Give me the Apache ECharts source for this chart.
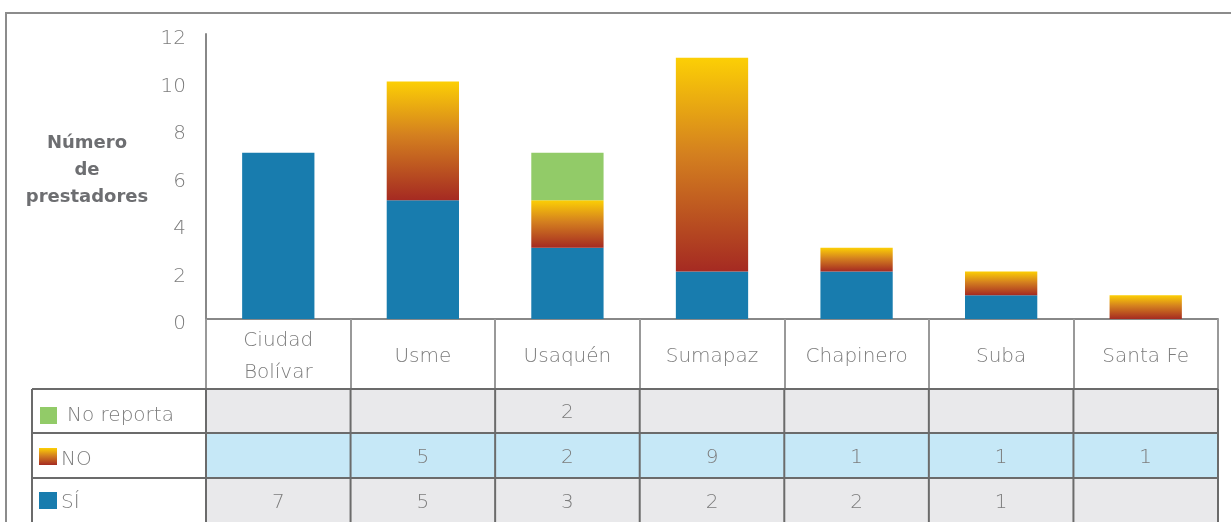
<!DOCTYPE html>
<html>
<head>
<meta charset="utf-8">
<script src="https://cdn.jsdelivr.net/npm/echarts@6/dist/echarts.min.js"></script>
<style>
  html, body { margin: 0; padding: 0; background: #fff; }
  #main { width: 1231px; height: 522px; }
</style>
</head>
<body>
<div id="main"></div>
<script>
// datos
var categories = ["Ciudad\nBolívar", "Usme", "Usaquén", "Sumapaz", "Chapinero", "Suba", "Santa Fe"];
var si = [7, 5, 3, 2, 2, 1, null];
var no = [null, 5, 2, 9, 1, 1, 1];
var noReporta = [null, null, 2, null, null, null, null];
var yTicks = [0, 2, 4, 6, 8, 10, 12];

var FONT = "DejaVu Sans";
var TXT = "#7c7c7c";
var BLUE = "#187cae";
var GREEN = "#92cb68";
function noGrad() {
  return new echarts.graphic.LinearGradient(0, 0, 0, 1, [
    { offset: 0, color: "#fccf05" },
    { offset: 0.45, color: "#d4801f" },
    { offset: 1, color: "#a52a22" }
  ]);
}

var myChart = echarts.init(document.getElementById("main"));

var option = {
  animation: false,
  backgroundColor: "#fff",
  grid: { left: 206, right: 13, top: 34, bottom: 203 },
  xAxis: {
    type: "category",
    data: categories,
    axisLine: { lineStyle: { color: "#888", width: 2 } },
    axisTick: { show: true, interval: 0, length: 70, lineStyle: { color: "#999", width: 2 } },
    axisLabel: {
      interval: 0,
      margin: 38,
      verticalAlign: "middle",
      lineHeight: 32,
      color: TXT,
      fontFamily: FONT,
      fontWeight: 200,
      fontSize: 20
    }
  },
  yAxis: {
    type: "value",
    min: 0,
    max: 12,
    interval: 2,
    axisLine: { show: true, lineStyle: { color: "#888", width: 2 } },
    axisTick: { show: false },
    splitLine: { show: false },
    axisLabel: {
      margin: 20,
      verticalAlign: "top",
      lineHeight: 10,
      color: TXT,
      fontFamily: FONT,
      fontWeight: 200,
      fontSize: 20,
      formatter: function (v) { return yTicks.indexOf(v) >= 0 ? String(v) : ""; }
    }
  },
  series: [
    { name: "SÍ", type: "bar", stack: "t", barWidth: "50%", data: si, itemStyle: { color: BLUE } },
    { name: "NO", type: "bar", stack: "t", data: no, itemStyle: { color: noGrad() } },
    { name: "No reporta", type: "bar", stack: "t", data: noReporta, itemStyle: { color: GREEN } }
  ]
};
myChart.setOption(option);

// tabla de datos debajo del eje
var x0 = myChart.convertToPixel({ xAxisIndex: 0 }, 0);
var x1 = myChart.convertToPixel({ xAxisIndex: 0 }, 1);
var band = x1 - x0;
var leftEdge = x0 - band / 2;
var rightEdge = leftEdge + band * categories.length;
var rows = [
  { name: "No reporta", data: noReporta, bg: "#e9e9eb", top: 389, h: 44 },
  { name: "NO", data: no, bg: "#c6e8f7", top: 433, h: 45 },
  { name: "SÍ", data: si, bg: "#e9e9eb", top: 478, h: 46 }
];
var lightFont = "200 20px '" + FONT + "'";
var g = [];
// marco exterior
g.push({ type: "rect", shape: { x: 6, y: 13, width: 1240, height: 530 }, style: { fill: null, stroke: "#8c8c8c", lineWidth: 2 }, z: 1 });
// título del eje
g.push({
  type: "text", x: 87, y: 170,
  style: { text: "Número\nde\nprestadores", align: "center", verticalAlign: "middle", lineHeight: 27, fill: "#6d6e71", font: "bold 18px '" + FONT + "'" }
});
rows.forEach(function (r) {
  g.push({ type: "rect", shape: { x: leftEdge, y: r.top, width: rightEdge - leftEdge, height: r.h }, style: { fill: r.bg }, z: 2 });
  r.data.forEach(function (v, i) {
    if (v == null) return;
    g.push({
      type: "text", x: x0 + band * i, y: r.top + r.h / 2 + 2,
      style: { text: String(v), align: "center", verticalAlign: "middle", fill: TXT, font: lightFont }, z: 5
    });
  });
  g.push({ type: "line", shape: { x1: 32, y1: r.top, x2: rightEdge, y2: r.top }, style: { stroke: "#6b6b6b", lineWidth: 2 }, z: 4 });
});
for (var i = 0; i <= categories.length; i++) {
  var xx = leftEdge + band * i;
  g.push({ type: "line", shape: { x1: xx, y1: 389, x2: xx, y2: 522 }, style: { stroke: "#6b6b6b", lineWidth: 2 }, z: 4 });
}
g.push({ type: "line", shape: { x1: 32, y1: 389, x2: 32, y2: 522 }, style: { stroke: "#6b6b6b", lineWidth: 2 }, z: 4 });
// leyenda en la tabla
g.push({ type: "rect", shape: { x: 40, y: 407, width: 17, height: 17 }, style: { fill: GREEN }, z: 5 });
g.push({ type: "text", x: 67, y: 416, style: { text: "No reporta", verticalAlign: "middle", fill: TXT, font: lightFont }, z: 5 });
g.push({ type: "rect", shape: { x: 39, y: 448, width: 18, height: 17 }, style: { fill: noGrad() }, z: 5 });
g.push({ type: "text", x: 61, y: 460, style: { text: "NO", verticalAlign: "middle", fill: TXT, font: lightFont }, z: 5 });
g.push({ type: "rect", shape: { x: 39, y: 492, width: 18, height: 17 }, style: { fill: BLUE }, z: 5 });
g.push({ type: "text", x: 61, y: 503, style: { text: "SÍ", verticalAlign: "middle", fill: TXT, font: lightFont }, z: 5 });

myChart.setOption({ graphic: g });
</script>
</body>
</html>
